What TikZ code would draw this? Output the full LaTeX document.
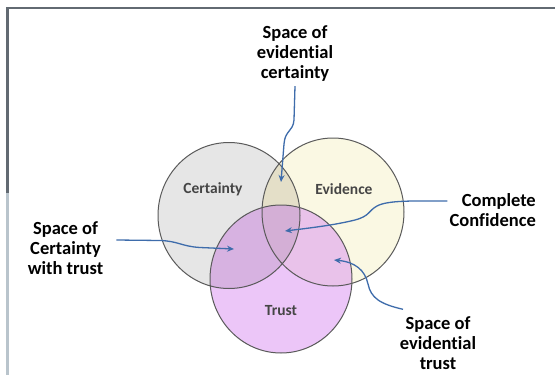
\documentclass[tikz,border=0pt]{standalone}
\usepackage{fontspec}
\setmainfont{Carlito}[Ligatures=NoCommon]
\usetikzlibrary{arrows.meta}
\definecolor{cfill}{HTML}{E6E6E6}
\definecolor{efill}{HTML}{FAF8E3}
\definecolor{tfill}{HTML}{ECC6F8}
\definecolor{cefill}{HTML}{E4DFC8}
\definecolor{ctfill}{HTML}{D7B2E1}
\definecolor{etfill}{HTML}{E9C2EA}
\definecolor{allfill}{HTML}{D4AFD6}
\definecolor{rim}{HTML}{5A5A5A}
\definecolor{arrowblue}{HTML}{3E6CAB}
\definecolor{innertext}{HTML}{454545}
\definecolor{framedark}{HTML}{626A72}
\definecolor{framelight}{HTML}{B9C4CC}
\tikzset{
  outerlabel/.style={inner sep=0pt, align=center, font=\fontsize{18.5}{20}\selectfont\bfseries, text=black},
  innerlabel/.style={inner sep=0pt, font=\fontsize{15.5}{18}\selectfont\bfseries, text=innertext},
  pointer/.style={draw=arrowblue, line width=1.3pt, -{Stealth[length=7pt,width=6pt]}},
  rimline/.style={draw=rim, line width=1pt}
}
\begin{document}
\begin{tikzpicture}[x=1pt,y=-1pt]
\useasboundingbox (0,0) rectangle (555,375);
\fill[white] (0,0) rectangle (555,375);
% frame
\draw[framedark, line width=1.5pt] (6,8) -- (555,8);
\draw[framelight, line width=3pt] (7.5,193) -- (7.5,375);
\draw[framedark, line width=3pt] (7.5,7.3) -- (7.5,193);
% circles
\def\cpath{(229,215.5) ellipse [x radius=71, y radius=73]}
\def\epath{(333,212) ellipse [x radius=71, y radius=74]}
\def\tpath{(281,279) ellipse [x radius=71, y radius=74]}
\fill[cfill] \cpath;
\fill[efill] \epath;
\fill[tfill] \tpath;
\begin{scope}\clip \cpath; \fill[cefill] \epath; \end{scope}
\begin{scope}\clip \cpath; \fill[ctfill] \tpath; \end{scope}
\begin{scope}\clip \epath; \fill[etfill] \tpath; \end{scope}
\begin{scope}\clip \cpath; \clip \epath; \fill[allfill] \tpath; \end{scope}
\draw[rimline] \cpath;
\draw[rimline] \epath;
\draw[rimline] \tpath;
% inner labels
\node[innerlabel] (cert) at (213,189) {Certainty};
\node[innerlabel] (evid) at (344,189) {Evidence};
\node[innerlabel] (trust) at (281,311) {Trust};
% outer labels
\node[outerlabel] (sec) at (295,54) {Space of\\evidential\\certainty};
\node[outerlabel, align=right, anchor=east] (cc) at (536,210) {Complete\\Confidence};
\node[outerlabel] (sct) at (65.5,248.5) {Space of\\Certainty\\with trust};
\node[outerlabel] (set) at (438,343) {Space of\\evidential\\trust};
% targets
\coordinate (pce) at (281,182);
\coordinate (pall) at (285,231);
\coordinate (pct) at (234,249);
\coordinate (pet) at (334,260);
% pointers
\draw[pointer] ([yshift=-4pt]sec.south) -- (294,120) .. controls (293,132) and (285,130) .. (284,144) -- (pce);
\draw[pointer] ([xshift=-2pt,yshift=9pt]cc.west) .. controls (415,201) and (388,200) .. (377,206) .. controls (368,211) and (370,216) .. (355,220) .. controls (335,225) and (310,228) .. (pall);
\draw[pointer] ([xshift=13pt,yshift=8.5pt]sct.east) -- (160,240.5) .. controls (178,241) and (182,246.5) .. (200,247.5) -- (pct);
\draw[pointer] ([xshift=-35pt,yshift=7pt]set.north) .. controls (380,304) and (371,298) .. (368,284) .. controls (365,270) and (355,262) .. (pet);
\end{tikzpicture}
\end{document}
